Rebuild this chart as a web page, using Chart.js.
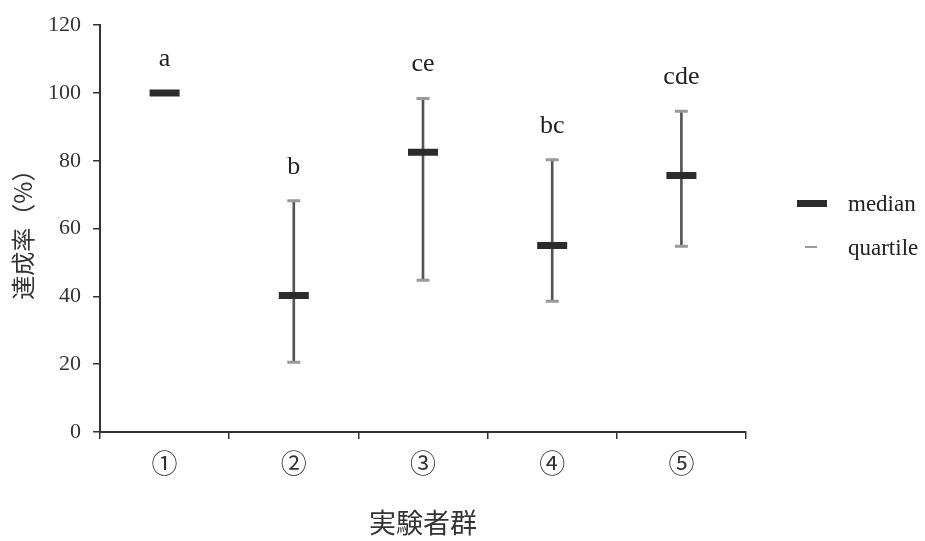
<!DOCTYPE html>
<html>
<head>
<meta charset="utf-8">
<script src="https://cdn.jsdelivr.net/npm/chart.js@4.4.1/dist/chart.umd.min.js"></script>
<style>
  body { margin: 0; background: #fff; }
  #wrap { width: 925px; height: 541px; }
</style>
</head>
<body>
<div id="wrap"><canvas id="myChart" width="925" height="541"></canvas></div>
<script>
// values
const groups = ["①", "②", "③", "④", "⑤"];
const medians = [100, 40.3, 82.5, 55, 75.7];
const upperQuartile = [null, 68.2, 98.4, 80.3, 94.6];
const lowerQuartile = [null, 20.6, 44.8, 38.6, 54.8];
const letters = ["a", "b", "ce", "bc", "cde"];

const serif = "'Liberation Serif', 'Times New Roman', serif";
const cjk = "'Noto Sans CJK JP', sans-serif";

Chart.defaults.font.family = serif;
Chart.defaults.color = "#222";

const whiteBg = {
  id: "whiteBg",
  beforeDraw(chart) {
    const ctx = chart.ctx;
    ctx.save();
    ctx.fillStyle = "#fff";
    ctx.fillRect(0, 0, chart.width, chart.height);
    ctx.restore();
  },
};

// significance letters above each group + the legend on the right
const extras = {
  id: "extras",
  afterDraw(chart) {
    const ctx = chart.ctx;
    const x = chart.scales.x;
    const y = chart.scales.y;
    ctx.save();
    ctx.fillStyle = "#222";
    ctx.font = "26px " + serif;
    ctx.textAlign = "center";
    ctx.textBaseline = "middle";
    letters.forEach((txt, i) => {
      const top = upperQuartile[i] != null ? upperQuartile[i] : medians[i];
      ctx.fillText(txt, x.getPixelForValue(i), y.getPixelForValue(top) - 34);
    });

    const right = chart.chartArea.right;
    ctx.textAlign = "left";
    ctx.font = "23px " + serif;
    // median
    ctx.fillStyle = "#2b2b2b";
    ctx.fillRect(right + 51, 200, 30, 7);
    ctx.fillStyle = "#222";
    ctx.fillText("median", right + 102, 205);
    // quartile
    ctx.fillStyle = "#999";
    ctx.fillRect(right + 59, 246, 12, 2);
    ctx.fillStyle = "#222";
    ctx.fillText("quartile", right + 102, 249);
    ctx.restore();
  },
};

new Chart("myChart", {
  type: "bar",
  data: {
    labels: groups,
    datasets: [
      {
        type: "line",
        label: "median",
        data: medians,
        showLine: false,
        pointStyle: "line",
        pointRadius: 15,
        pointBorderWidth: 7,
        borderColor: "#2b2b2b",
        backgroundColor: "#2b2b2b",
        order: 0,
      },
      {
        type: "line",
        label: "quartile",
        data: upperQuartile,
        showLine: false,
        pointStyle: "line",
        pointRadius: 6.5,
        pointBorderWidth: 3,
        borderColor: "#999",
        order: 1,
      },
      {
        type: "line",
        label: "quartile low",
        data: lowerQuartile,
        showLine: false,
        pointStyle: "line",
        pointRadius: 6.5,
        pointBorderWidth: 3,
        borderColor: "#999",
        order: 1,
      },
      {
        label: "range",
        data: groups.map((g, i) =>
          lowerQuartile[i] == null ? null : [lowerQuartile[i], upperQuartile[i]]
        ),
        backgroundColor: "#555",
        borderWidth: 0,
        barThickness: 2,
        order: 2,
      },
    ],
  },
  options: {
    responsive: false,
    animation: false,
    events: [],
    layout: { padding: { top: 20, right: 179, left: 0, bottom: 0 } },
    plugins: {
      legend: { display: false },
      tooltip: { enabled: false },
    },
    scales: {
      x: {
        offset: true,
        grid: {
          offset: true,
          drawOnChartArea: false,
          tickLength: 7,
          color: "#333",
          lineWidth: 1.5,
        },
        border: { color: "#333", width: 2 },
        ticks: { font: { family: cjk, size: 26 }, color: "#333", padding: 9 },
        title: {
          display: true,
          text: "実験者群",
          font: { family: cjk, size: 27 },
          color: "#333",
          padding: { top: 0, bottom: 2 },
        },
        afterFit(scale) {
          scale.height = 109;
        },
      },
      y: {
        min: 0,
        max: 120,
        ticks: { stepSize: 20, font: { size: 22 }, color: "#333", padding: 12 },
        grid: {
          drawOnChartArea: false,
          tickLength: 7,
          color: "#333",
          lineWidth: 1.5,
        },
        border: { color: "#333", width: 2 },
        title: {
          display: true,
          text: "達成率（%）",
          font: { family: cjk, size: 24 },
          color: "#333",
          padding: { top: 8, bottom: 0 },
        },
        afterFit(scale) {
          scale.width = 100;
        },
      },
    },
  },
  plugins: [whiteBg, extras],
});
</script>
</body>
</html>
